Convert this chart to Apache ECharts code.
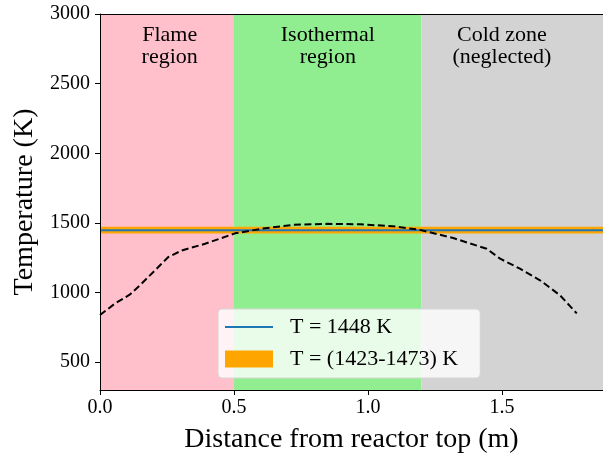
<!DOCTYPE html>
<html><head><meta charset="utf-8">
<script src="https://cdn.jsdelivr.net/npm/echarts@6/dist/echarts.min.js"></script>
<style>html,body{margin:0;padding:0;background:#fff}#c{width:603px;height:459px}</style>
</head><body><div id="c"></div>
<script>
const distance = [0, 0.056, 0.112, 0.149, 0.205, 0.255, 0.305, 0.392, 0.504, 0.616, 0.721, 0.846, 0.97, 1.094, 1.194, 1.318, 1.443, 1.493, 1.567, 1.642, 1.716, 1.779];
const temperature = [838, 921, 986, 1052, 1159, 1255, 1302, 1350, 1425, 1462, 1486, 1493, 1490, 1476, 1450, 1391, 1314, 1243, 1171, 1088, 981, 850];
const regionNames = ['Flame\nregion', 'Isothermal\nregion', 'Cold zone\n(neglected)'];
const regionStart = [0, 0.5, 1.2];
const regionEnd = [0.5, 1.2, 1.877];
const regionColors = ['#FFC0CB', '#90EE90', '#D3D3D3'];
const regionLabelX = [0.26, 0.85, 1.5];
const regionLabelY = 2770;
const bandLow = 1423, bandHigh = 1473, setpoint = 1448;
const xMin = 0, xMax = 1.877, yMin = 300, yMax = 3000;
const yTicks = [500, 1000, 1500, 2000, 2500, 3000];
const xTicks = [0, 0.5, 1.0, 1.5];

const FF = 'Liberation Serif';
const chart = echarts.init(document.getElementById('c'));
const axisCommon = {
  type: 'value', z: 10,
  axisLine: { show: true, onZero: false, lineStyle: { color: '#000', width: 1 } },
  axisTick: { show: true, inside: false, length: 5, lineStyle: { color: '#000' } },
  splitLine: { show: false },
  axisLabel: { color: '#000', fontFamily: FF, fontSize: 20 }
};
chart.setOption({
  animation: false,
  grid: { left: 100, right: 0, top: 14, bottom: 67 },
  xAxis: [
    Object.assign({}, axisCommon, {
      min: xMin, max: xMax,
      name: 'Distance from reactor top (m)', nameLocation: 'middle', nameGap: 36,
      nameTextStyle: { color: '#000', fontFamily: FF, fontSize: 28 },
      axisTick: Object.assign({}, axisCommon.axisTick, { customValues: xTicks }),
      axisLabel: Object.assign({}, axisCommon.axisLabel, { margin: 8, customValues: xTicks, formatter: v => v.toFixed(1) })
    }),
    { type: 'value', position: 'top', min: xMin, max: xMax, z: 10,
      axisLine: { show: true, onZero: false, lineStyle: { color: '#000', width: 1 } },
      axisTick: { show: false }, axisLabel: { show: false }, splitLine: { show: false } }
  ],
  yAxis: Object.assign({}, axisCommon, {
    min: yMin, max: yMax,
    name: 'Temperature (K)', nameLocation: 'middle', nameGap: 52,
    nameTextStyle: { color: '#000', fontFamily: FF, fontSize: 28 },
    axisTick: Object.assign({}, axisCommon.axisTick, { customValues: yTicks }),
    axisLabel: Object.assign({}, axisCommon.axisLabel, { margin: 10, customValues: yTicks, formatter: v => String(v) })
  }),
  legend: {
    orient: 'vertical', left: 218, top: 309,
    padding: [7, 22, 8, 7], itemGap: 10, itemWidth: 48, itemHeight: 17,
    backgroundColor: 'rgba(255,255,255,0.8)', borderColor: '#d6d6d6', borderWidth: 1, borderRadius: 4,
    textStyle: { fontFamily: FF, fontSize: 22, color: '#000', padding: [0, 0, 0, 12] },
    data: [
      { name: 'T = 1448 K', icon: 'path://M0,0L96,0L96,4L0,4Z', itemStyle: { color: '#1f77b4' } },
      { name: 'T = (1423-1473) K', icon: 'rect', itemStyle: { color: '#FFA500' } }
    ]
  },
  series: [
    {
      type: 'line', name: 'regions', data: [], z: 1, silent: true,
      markArea: {
        silent: true,
        data: regionNames.map((n, i) => [
          { xAxis: regionStart[i], itemStyle: { color: regionColors[i] } },
          { xAxis: regionEnd[i] }
        ])
      }
    },
    {
      type: 'scatter', name: 'labels', z: 5, symbolSize: 0, silent: true,
      itemStyle: { opacity: 1 },
      data: regionNames.map((n, i) => ({ value: [regionLabelX[i], regionLabelY], name: n })),
      label: { show: true, position: 'inside', formatter: p => p.name, color: '#000', opacity: 1,
        fontFamily: FF, fontSize: 22, lineHeight: 22, align: 'center' }
    },
    {
      type: 'line', name: 'T = (1423-1473) K', data: [], z: 2, color: '#FFA500',
      markArea: { silent: true, data: [[{ yAxis: bandLow, itemStyle: { color: '#FFA500' } }, { yAxis: bandHigh }]] }
    },
    {
      type: 'line', name: 'T = 1448 K', z: 3, symbol: 'none', color: '#1f77b4',
      lineStyle: { width: 2, color: '#1f77b4' },
      data: [[xMin, setpoint], [xMax, setpoint]]
    },
    {
      type: 'line', name: 'profile', z: 4, symbol: 'none', smooth: false,
      lineStyle: { width: 2, color: '#000', type: [7, 3.5] },
      data: distance.map((d, i) => [d, temperature[i]])
    }
  ]
});
</script></body></html>
